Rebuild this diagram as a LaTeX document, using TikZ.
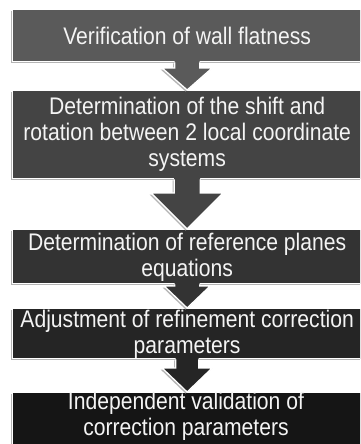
\documentclass[tikz,border=0pt]{standalone}
\usepackage{fontspec}
\setmainfont[FakeStretch=0.88]{Liberation Sans}
\usetikzlibrary{calc,shadows}
\definecolor{cA}{HTML}{5A5A5A}
\definecolor{cB}{HTML}{444444}
\definecolor{cC}{HTML}{333333}
\definecolor{cD}{HTML}{252525}
\definecolor{cE}{HTML}{151515}
\definecolor{txt}{HTML}{F4F4F4}
\definecolor{shd}{HTML}{B4B4B4}
\newcommand\blockarr[6]{%
  \fill[shd] let \p1=(#1.south), \p2=(#2.north) in
    (\x1-#3pt-1.5pt,\y1-1pt) -- (\x1-#3pt-1.5pt,\y2+#5pt-1.5pt) -- (\x1-#4pt-1.5pt,\y2+#5pt-1.5pt)
    -- (\x1-1.5pt,\y2-1.5pt) -- (\x1+#4pt-1.5pt,\y2+#5pt-1.5pt) -- (\x1+#3pt-1.5pt,\y2+#5pt-1.5pt)
    -- (\x1+#3pt-1.5pt,\y1-1pt) -- cycle;
  \fill[#6] let \p1=(#1.south), \p2=(#2.north) in
    (\x1-#3pt,\y1+1.5pt) -- (\x1-#3pt,\y2+#5pt) -- (\x1-#4pt,\y2+#5pt) -- (\x1,\y2)
    -- (\x1+#4pt,\y2+#5pt) -- (\x1+#3pt,\y2+#5pt) -- (\x1+#3pt,\y1+1.5pt) -- cycle;
  \draw[arrline] let \p1=(#1.south), \p2=(#2.north) in
    (\x1-#3pt,\y1) -- (\x1-#3pt,\y2+#5pt) -- (\x1-#4pt,\y2+#5pt) -- (\x1,\y2)
    -- (\x1+#4pt,\y2+#5pt) -- (\x1+#3pt,\y2+#5pt) -- (\x1+#3pt,\y1);
}
\begin{document}
\begin{tikzpicture}[x=1pt,y=-1pt,
  box/.style={draw=white, line width=1.3pt, minimum width=349pt, inner sep=0pt,
    anchor=north west,
    drop shadow={shadow xshift=-1.5pt, shadow yshift=-1.5pt, fill=shd, opacity=1}},
  lbl/.style={text=txt, align=center, font=\fontsize{24}{26}\selectfont, inner sep=0pt},
  arrline/.style={draw=white, line width=1.3pt, line join=miter}]
\fill[white] (0,0) rectangle (360,444);
\clip (0,0) rectangle (360,444);
\node[box, fill=cA, minimum height=52pt] (b1) at (12,9) {};
\node[box, fill=cB, minimum height=88pt] (b2) at (12,90) {};
\node[box, fill=cC, minimum height=54pt] (b3) at (12,229) {};
\node[box, fill=cD, minimum height=50pt] (b4) at (12,308) {};
\node[box, fill=cE, minimum height=60pt] (b5) at (12,392) {};
\blockarr{b1}{b2}{12.5}{25}{22}{cA}
\blockarr{b2}{b3}{13}{36}{36}{cB}
\blockarr{b3}{b4}{12.5}{23}{22}{cC}
\blockarr{b4}{b5}{11.5}{25}{24}{cD}
\node[lbl] (t1) at (b1.center) {Verification of wall flatness};
\node[lbl] (t2) at (b2.center) {Determination of the shift and\\rotation between 2 local coordinate\\systems};
\node[lbl] (t3) at ($(b3.center)+(0,1)$) {Determination of reference planes\\equations};
\node[lbl] (t4) at ($(b4.center)+(0,1)$) {Adjustment of refinement correction\\parameters};
\node[lbl] (t5) at (186,416) {Independent validation of\\correction parameters};
\end{tikzpicture}
\end{document}
